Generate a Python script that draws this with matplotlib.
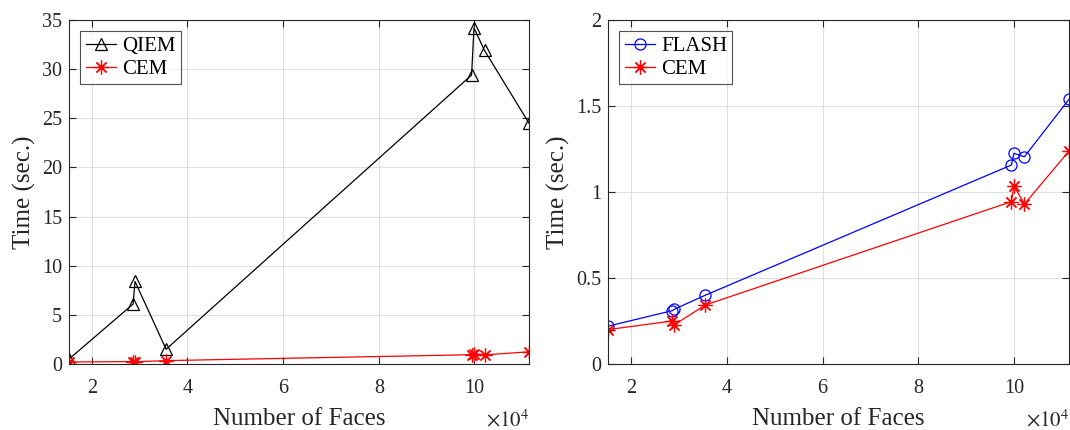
import numpy as np
import matplotlib
matplotlib.use("Agg")
import matplotlib.pyplot as plt
from matplotlib.ticker import FuncFormatter

plt.rcParams['font.family'] = ['Liberation Serif', 'DejaVu Serif']
plt.rcParams['mathtext.fontset'] = 'stix'

# number of faces of each test model
faces = [15250, 28650, 29050, 35550, 99400, 99900, 102100, 111400]

# timings (sec.)
qiem = [0.5, 6.1, 8.4, 1.5, 29.4, 34.2, 31.9, 24.5]
cem = [0.20, 0.25, 0.227, 0.343, 0.944, 1.035, 0.93, 1.238]
flash = [0.22, 0.31, 0.318, 0.40, 1.157, 1.225, 1.205, 1.539]

left_ticks = [0, 5, 10, 15, 20, 25, 30, 35]
right_ticks = [0, 0.5, 1, 1.5, 2]
x_ticks = [20000, 40000, 60000, 80000, 100000]

dark = '#262626'
star = (8, 2, 0)

fig = plt.figure(figsize=(10.7, 4.3), dpi=100)
ax1 = fig.add_axes([69 / 1070, 66 / 430, 460 / 1070, 344 / 430])
ax2 = fig.add_axes([608 / 1070, 66 / 430, 461 / 1070, 344 / 430])

ax1.plot(faces, qiem, color='k', lw=0.9, marker='^', ms=9, mfc='none',
         mew=0.9, label='QIEM')
ax1.plot(faces, cem, color='r', lw=0.9, marker=star, ms=10, mew=0.9,
         label='CEM')

ax2.plot(faces, flash, color='b', lw=0.9, marker='o', ms=8, mfc='none',
         mew=0.9, label='FLASH')
ax2.plot(faces, cem, color='r', lw=0.9, marker=star, ms=10, mew=0.9,
         label='CEM')

for ax, yt, top in [(ax1, left_ticks, 35), (ax2, right_ticks, 2)]:
    ax.set_xlim(min(faces), max(faces))
    ax.set_ylim(0, top)
    ax.set_xticks(x_ticks)
    ax.set_yticks(yt)
    ax.xaxis.set_major_formatter(FuncFormatter(lambda v, p: f"{v / 1e4:g}"))
    ax.yaxis.set_major_formatter(FuncFormatter(lambda v, p: f"{v:g}"))
    ax.grid(True, color='#e0e0e0', lw=0.8)
    ax.set_axisbelow(True)
    ax.tick_params(direction='in', length=5, width=0.8, top=True, right=True,
                   labelsize=14.5, colors=dark)
    ax.tick_params(axis='x', pad=11)
    ax.tick_params(axis='y', pad=5)
    for s in ax.spines.values():
        s.set_color(dark)
        s.set_linewidth(0.8)
    ax.set_xlabel('Number of Faces', fontsize=18, color=dark, va='baseline')
    ax.xaxis.set_label_coords(0.5, -61 / 344)
    ax.set_ylabel('Time (sec.)', fontsize=18, color=dark, labelpad=4)
    ax.text(1.0, -62 / 344, r'$\times10^{4}$', transform=ax.transAxes,
            ha='right', va='baseline', fontsize=15, color=dark)
    leg = ax.legend(loc='upper left', fontsize=15, frameon=True, fancybox=False,
                    edgecolor=dark, borderpad=0.25, handlelength=1.45,
                    handletextpad=0.3, labelspacing=0.15,
                    borderaxespad=0.55)
    leg.get_frame().set_linewidth(0.8)
    for t in leg.get_texts():
        t.set_color('k')

fig.savefig('out.png', dpi=100)
